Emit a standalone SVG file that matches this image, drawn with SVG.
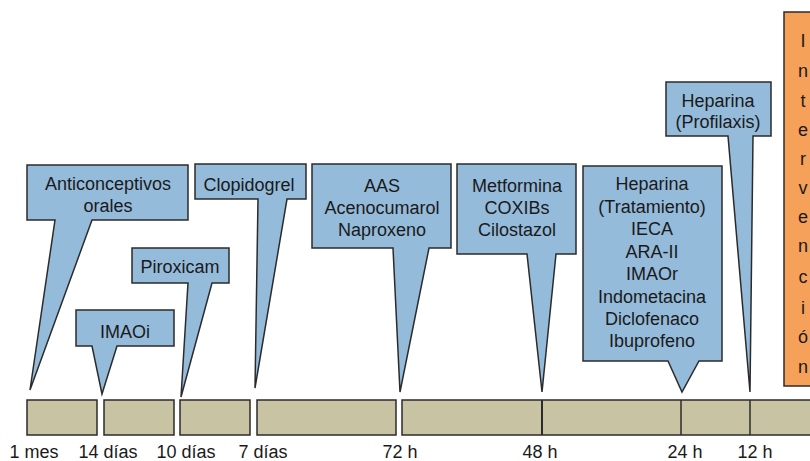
<svg xmlns="http://www.w3.org/2000/svg" width="810" height="461" viewBox="0 0 810 461">
<style>
.co{fill:#95bbdb;stroke:#2b2b2b;stroke-width:1.5;stroke-linejoin:miter}
.seg{fill:#c8c3a2;stroke:#2b2b2b;stroke-width:1.5}
.div{stroke:#2b2b2b;stroke-width:1.5}
.t{font-family:"Liberation Sans",Arial,sans-serif;font-size:18px;fill:#1a1a1a;text-anchor:middle}
.or{fill:#f6a15a;stroke:#2b2b2b;stroke-width:1.5}
</style>
<rect width="810" height="461" fill="#ffffff"/>

<g id="timeline">
  <rect class="seg" x="27" y="400" width="70" height="35"/>
  <rect class="seg" x="104" y="400" width="70" height="35"/>
  <rect class="seg" x="180" y="400" width="70" height="35"/>
  <rect class="seg" x="257" y="400" width="139" height="35"/>
  <rect class="seg" x="402" y="400" width="420" height="35"/>
  <line class="div" x1="542" y1="400" x2="542" y2="435" style="stroke-width:2"/>
  <line class="div" x1="681" y1="400" x2="681" y2="435"/>
  <line class="div" x1="750" y1="400" x2="750" y2="435"/>
  <text class="t" x="34" y="458">1 mes</text>
  <text class="t" x="108" y="458">14 días</text>
  <text class="t" x="186" y="458">10 días</text>
  <text class="t" x="263" y="458">7 días</text>
  <text class="t" x="400" y="458">72 h</text>
  <text class="t" x="540" y="458">48 h</text>
  <text class="t" x="685" y="458">24 h</text>
  <text class="t" x="755" y="458">12 h</text>
</g>

<g id="anticonceptivos">
  <polygon class="co" points="27,165 188,165 188,220 92,220 30,390 55,220 27,220"/>
  <text class="t" x="108" y="190">Anticonceptivos</text>
  <text class="t" x="108" y="212">orales</text>
</g>

<g id="imaoi">
  <polygon class="co" points="76,310 174,310 174,346 117,346 102,394 92,346 76,346"/>
  <text class="t" x="125" y="338">IMAOi</text>
</g>

<g id="piroxicam">
  <polygon class="co" points="132,248 229,248 229,283 212,283 181,397 188,283 132,283"/>
  <text class="t" x="180" y="273">Piroxicam</text>
</g>

<g id="clopidogrel">
  <polygon class="co" points="195,164 306,164 306,199 287,199 255,388 258,199 195,199"/>
  <text class="t" x="249" y="191">Clopidogrel</text>
</g>

<g id="aas">
  <polygon class="co" points="312,164 451,164 451,248 429,248 400,392 393,248 312,248"/>
  <text class="t" x="382" y="192">AAS</text>
  <text class="t" x="382" y="214">Acenocumarol</text>
  <text class="t" x="382" y="236">Naproxeno</text>
</g>

<g id="metformina">
  <polygon class="co" points="457,164 576,164 576,254 556,254 542,392 527,254 457,254"/>
  <text class="t" x="517" y="192">Metformina</text>
  <text class="t" x="517" y="214">COXIBs</text>
  <text class="t" x="517" y="236">Cilostazol</text>
</g>

<g id="heparina-tratamiento">
  <polygon class="co" points="583,166 722,166 722,361 699,361 682,392 668,361 583,361"/>
  <text class="t" x="652" y="190">Heparina</text>
  <text class="t" x="652" y="212.5">(Tratamiento)</text>
  <text class="t" x="652" y="235">IECA</text>
  <text class="t" x="652" y="257.5">ARA-II</text>
  <text class="t" x="652" y="280">IMAOr</text>
  <text class="t" x="652" y="302.5">Indometacina</text>
  <text class="t" x="652" y="325">Diclofenaco</text>
  <text class="t" x="652" y="347">Ibuprofeno</text>
</g>

<g id="heparina-profilaxis">
  <polygon class="co" points="666,82 771,82 771,136 753,136 750,392 728,136 666,136"/>
  <text class="t" x="718" y="107">Heparina</text>
  <text class="t" x="718" y="128">(Profilaxis)</text>
</g>

<g id="intervencion">
  <rect class="or" x="784" y="12" width="40" height="374"/>
  <text class="t" x="803" y="47">I</text>
  <text class="t" x="803" y="77">n</text>
  <text class="t" x="803" y="107">t</text>
  <text class="t" x="803" y="136">e</text>
  <text class="t" x="803" y="165">r</text>
  <text class="t" x="803" y="194">v</text>
  <text class="t" x="803" y="223">e</text>
  <text class="t" x="803" y="252">n</text>
  <text class="t" x="803" y="283">c</text>
  <text class="t" x="803" y="314">i</text>
  <text class="t" x="803" y="343">ó</text>
  <text class="t" x="803" y="373">n</text>
</g>

<g id="connectors"></g>
</svg>
